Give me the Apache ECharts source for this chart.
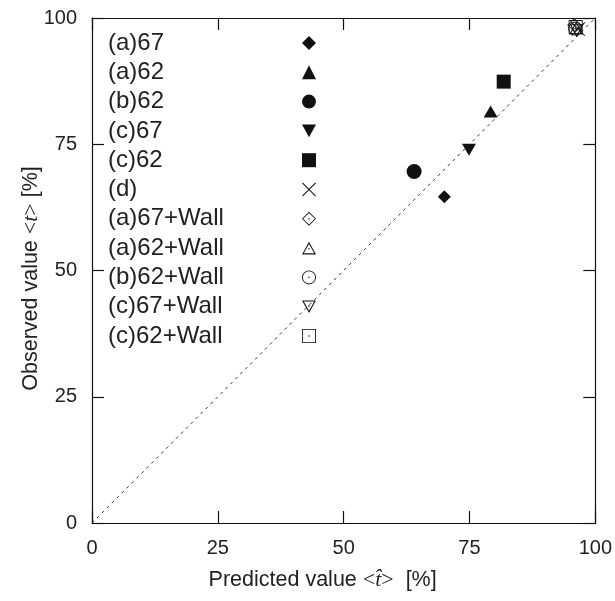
<!DOCTYPE html>
<html>
<head>
<meta charset="utf-8">
<script src="https://cdn.jsdelivr.net/npm/echarts@6/dist/echarts.min.js"></script>
<style>html,body{margin:0;padding:0;background:#fff}#c{width:615px;height:601px}</style>
</head>
<body>
<div id="c"></div>
<script>
// ---- data ----
const seriesNames = ['(a)67','(a)62','(b)62','(c)67','(c)62','(d)','(a)67+Wall','(a)62+Wall','(b)62+Wall','(c)67+Wall','(c)62+Wall'];
const predicted = [70.0, 79.2, 64.0, 74.9, 81.8, 96.6, 95.8, 96.2, 96.0, 96.3, 96.1];
const observed  = [64.6, 81.5, 69.6, 73.9, 87.4, 97.8, 98.6, 98.0, 97.9, 97.5, 98.2];
const diagonal = [[0, 0], [100, 100]];
const xTicks = [0, 25, 50, 75, 100];
const yTicks = [0, 25, 50, 75, 100];

// ---- symbols ----
const DOT = ' M-0.9,-0.9 L0.9,-0.9 L0.9,0.9 L-0.9,0.9 Z';
const SYM = {
  diamond: 'diamond',
  tri: 'triangle',
  circle: 'circle',
  dtri: 'path://M-10,-8 L10,-8 L0,10 Z',
  square: 'rect',
  cross: 'path://M-10,-9 L-9,-10 L0,-1 L9,-10 L10,-9 L1,0 L10,9 L9,10 L0,1 L-9,10 L-10,9 L-1,0 Z',
  hDiamond: 'path://M0,-10 L10,0 L0,10 L-10,0 Z M0,-8.3 L-8.3,0 L0,8.3 L8.3,0 Z' + DOT,
  hTri: 'path://M0,-10 L10,8 L-10,8 Z M0,-6.9 L-7.45,6.5 L7.45,6.5 Z' + DOT,
  hCircle: 'path://M10,0 A10,10 0 1 1 -10,0 A10,10 0 1 1 10,0 Z M8.7,0 A8.7,8.7 0 1 0 -8.7,0 A8.7,8.7 0 1 0 8.7,0 Z' + DOT,
  hDtri: 'path://M-10,-8 L10,-8 L0,10 Z M-7.45,-6.5 L0,6.9 L7.45,-6.5 Z' + DOT,
  hSquare: 'path://M-10,-10 L10,-10 L10,10 L-10,10 Z M-8.8,-8.8 L-8.8,8.8 L8.8,8.8 L8.8,-8.8 Z' + DOT
};
const symbols = [SYM.diamond, SYM.tri, SYM.circle, SYM.dtri, SYM.square, SYM.cross,
                 SYM.hDiamond, SYM.hTri, SYM.hCircle, SYM.hDtri, SYM.hSquare];
const sizes = [[13,13],[14,12],[15,15],[14,12],[14,14],[14,14],[14,14],[14,13],[14,14],[14,13],[14,14]];

const series = seriesNames.map((n, i) => ({
  name: n,
  type: 'scatter',
  data: [[predicted[i], observed[i]]],
  symbol: symbols[i],
  symbolSize: sizes[i],
  itemStyle: { color: '#111', opacity: 1 },
  z: 3
}));
series.unshift({
  name: 'diag',
  type: 'line',
  data: diagonal,
  symbol: 'none',
  silent: true,
  lineStyle: { color: '#333', width: 1, type: [3, 4] },
  z: 2
});

const SANS = 'Liberation Sans, Arial, sans-serif';
const SERIF = 'Liberation Serif, DejaVu Serif, serif';
const axisCommon = {
  type: 'value', min: 0, max: 100, interval: 25,
  axisLine: { show: true, onZero: false, lineStyle: { color: '#111', width: 1.2 } },
  axisTick: { show: true, inside: true, length: 12, lineStyle: { color: '#111', width: 1.2 } },
  splitLine: { show: false }
};
const labelStyle = { color: '#222', fontSize: 20, fontFamily: SANS };
const nameRich = {
  a: { fontSize: 21.5, fontFamily: SANS, color: '#222' },
  m: { fontSize: 22, fontFamily: SERIF, color: '#222' },
  i: { fontSize: 22, fontFamily: SERIF, fontStyle: 'italic', color: '#222' }
};

const option = {
  animation: false,
  backgroundColor: '#fff',
  grid: { left: 92, right: 17, top: 18, bottom: 78 },
  legend: {
    data: seriesNames,
    orient: 'vertical',
    align: 'right',
    left: 108, top: 31,
    padding: 0,
    itemWidth: 14, itemHeight: 14,
    itemGap: 5.3,
    formatter: n => '{n|' + n + '}',
    textStyle: {
      fontSize: 24, lineHeight: 23,
      rich: { n: { width: 189, align: 'left', fontSize: 24, lineHeight: 23, color: '#222', fontFamily: SANS } }
    },
    selectedMode: false
  },
  xAxis: [
    Object.assign({}, axisCommon, {
      position: 'bottom',
      axisLabel: Object.assign({ margin: 15, formatter: v => xTicks.includes(v) ? String(v) : '' }, labelStyle),
      name: '{a|Predicted value }{m|<}{i|t\u0302}{m|>}{a|  [%]}',
      nameLocation: 'middle', nameGap: 46, nameMoveOverlap: false,
      nameTextStyle: { rich: nameRich, padding: [0, 42, 0, 0] }
    }),
    Object.assign({}, axisCommon, { position: 'top', axisLabel: { show: false } })
  ],
  yAxis: [
    Object.assign({}, axisCommon, {
      position: 'left',
      axisLabel: Object.assign({ margin: 15, formatter: v => yTicks.includes(v) ? String(v) : '' }, labelStyle),
      name: '{a|Observed value }{m|<}{i|t}{m|>}{a| [%]}',
      nameLocation: 'middle', nameGap: 50, nameRotate: 90, nameMoveOverlap: false,
      nameTextStyle: { rich: nameRich, padding: [0, 16, 0, 0] }
    }),
    Object.assign({}, axisCommon, { position: 'right', axisLabel: { show: false } })
  ],
  series: series
};

const chart = echarts.init(document.getElementById('c'), null, { renderer: 'canvas' });
chart.setOption(option);
</script>
</body>
</html>
